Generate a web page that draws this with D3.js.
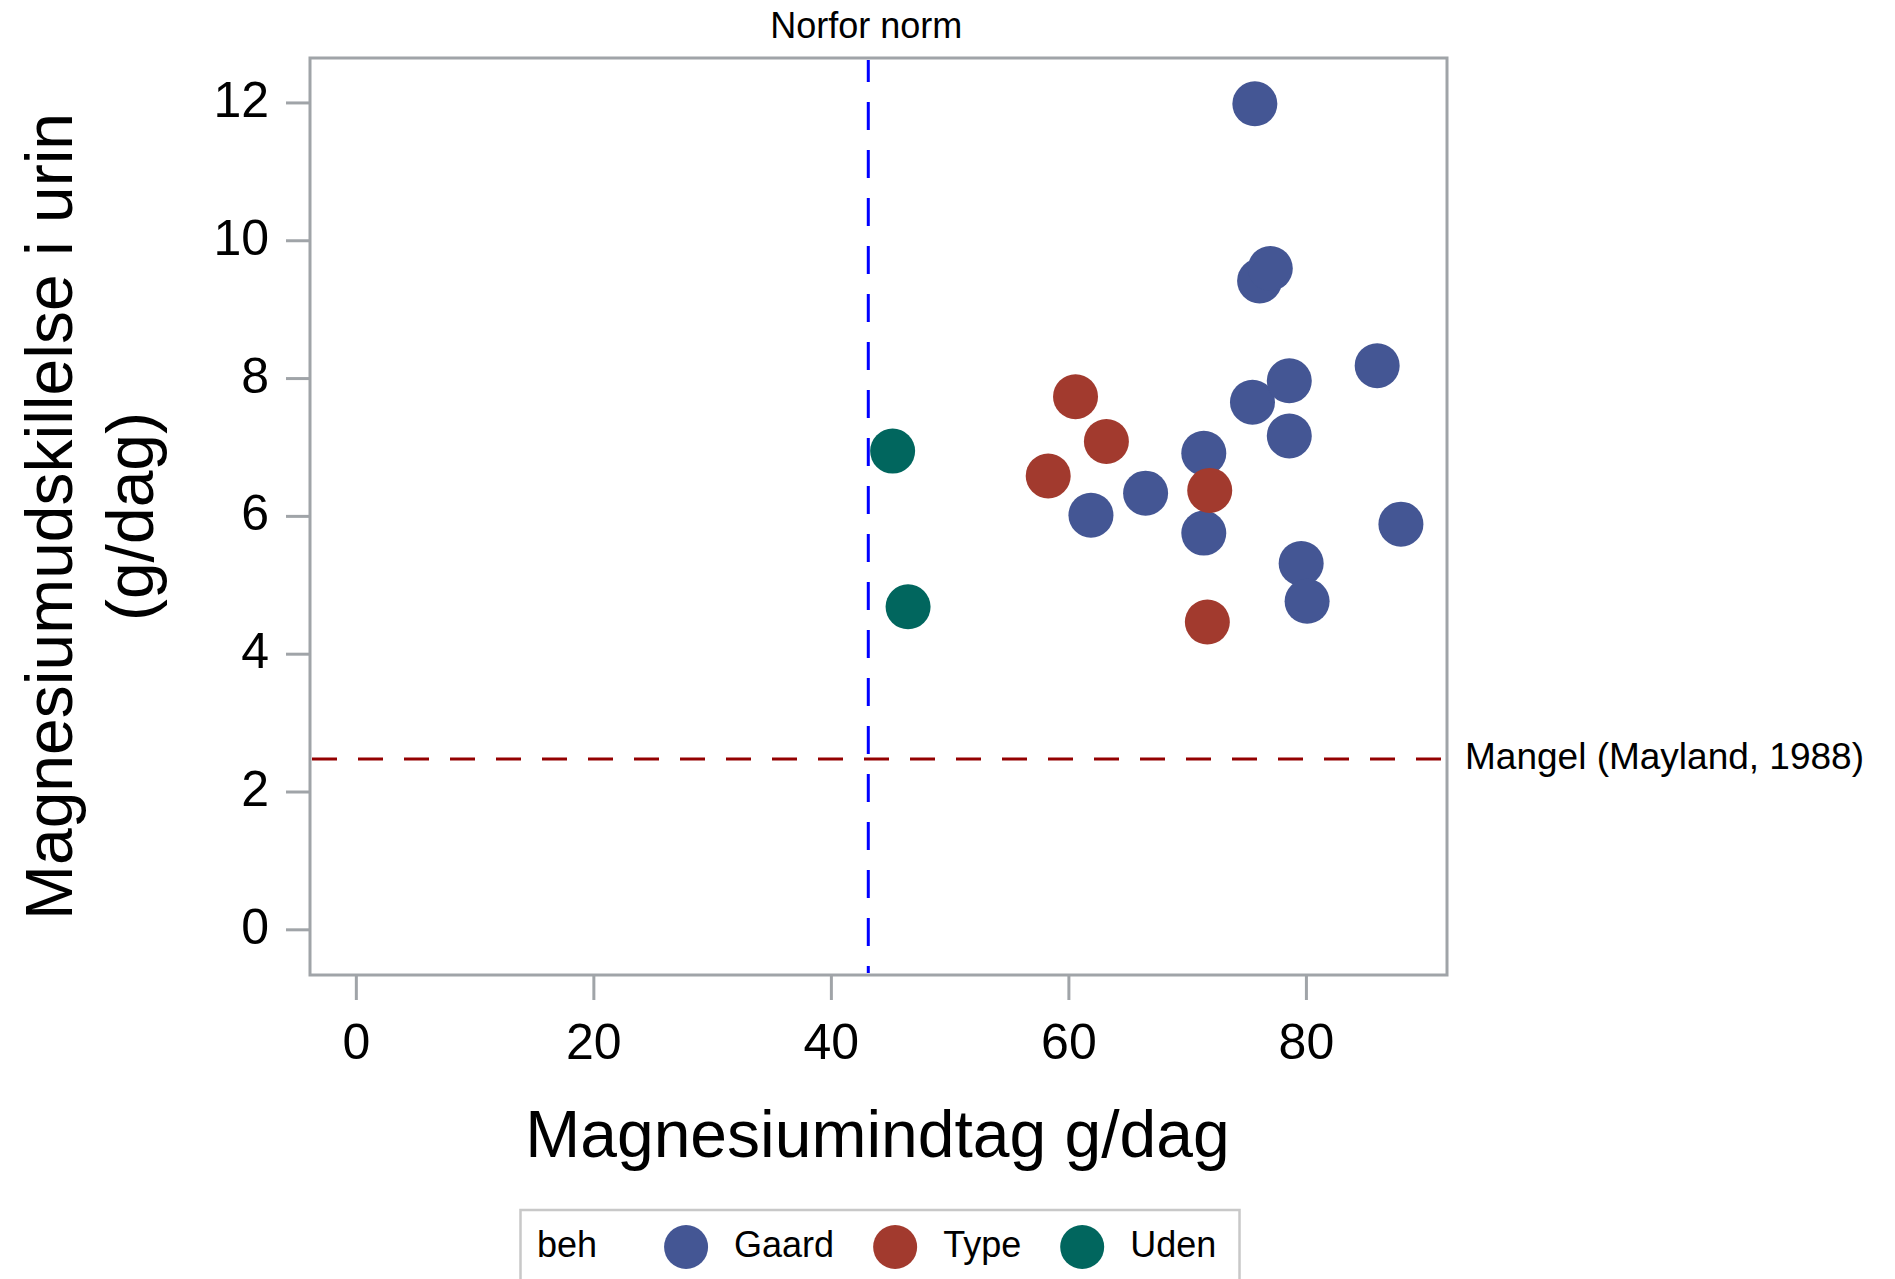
<!DOCTYPE html>
<html>
<head>
<meta charset="utf-8">
<script src="https://cdn.jsdelivr.net/npm/d3@7"></script>
<style>
  body { margin: 0; background: #fff; }
  text { font-family: "Liberation Sans", Arial, sans-serif; fill: #000; }
</style>
</head>
<body>
<script>
// groups (beh) and colours
let groups = ["Gaard", "Type", "Uden"];
let colors = ["#445694", "#a23a2e", "#01665e"];

// Magnesium intake (g/dag) and urinary excretion (g/dag) per group
let gaardIntake = [75.7, 76.1, 77.0, 61.9, 66.5, 71.4, 71.4, 75.5, 78.6, 78.6, 86.0, 88.0, 79.6, 80.1];
let gaardUrine  = [11.98, 9.41, 9.59, 6.01, 6.33, 6.91, 5.75, 7.65, 7.96, 7.16, 8.18, 5.88, 5.31, 4.76];
let typeIntake  = [60.6, 63.2, 58.3, 71.9, 71.7];
let typeUrine   = [7.73, 7.08, 6.58, 6.37, 4.46];
let udenIntake  = [45.2, 46.5];
let udenUrine   = [6.94, 4.68];

let xTicks = [0, 20, 40, 60, 80];
let yTicks = [0, 2, 4, 6, 8, 10, 12];

// reference lines
let norforNorm = 43.15;
let mangel = 2.47;

let W = 1895, H = 1279;
let plot = { left: 310, right: 1447, top: 58, bottom: 975 };
let gray = "#a0a4a8";

let svg = d3.select("body").append("svg")
  .attr("width", W)
  .attr("height", H);

let x = d3.scaleLinear()
  .domain([-3.86, 91.88])
  .range([plot.left, plot.right]);

let y = d3.scaleLinear()
  .domain([-0.663, 12.645])
  .range([plot.bottom, plot.top]);

// axes
let xAxis = svg.append("g")
  .attr("transform", "translate(0," + plot.bottom + ")")
  .call(d3.axisBottom(x)
    .tickValues(xTicks)
    .tickSize(25)
    .tickPadding(23)
    .tickFormat(d3.format("d")));
xAxis.select(".domain").remove();
xAxis.selectAll(".tick line").attr("stroke", gray).attr("stroke-width", 3);
xAxis.selectAll(".tick text").attr("font-size", 50).attr("font-family", null);

let yAxis = svg.append("g")
  .attr("transform", "translate(" + plot.left + ",0)")
  .call(d3.axisLeft(y)
    .tickValues(yTicks)
    .tickSize(24)
    .tickPadding(17)
    .tickFormat(d3.format("d")));
yAxis.select(".domain").remove();
yAxis.selectAll(".tick line").attr("stroke", gray).attr("stroke-width", 3);
yAxis.selectAll(".tick text").attr("font-size", 50).attr("font-family", null).attr("dy", "0.28em");

// frame
svg.append("rect")
  .attr("x", plot.left)
  .attr("y", plot.top)
  .attr("width", plot.right - plot.left)
  .attr("height", plot.bottom - plot.top)
  .attr("fill", "none")
  .attr("stroke", gray)
  .attr("stroke-width", 3);

// reference lines
svg.append("line")
  .attr("x1", x(norforNorm)).attr("x2", x(norforNorm))
  .attr("y1", plot.top + 2).attr("y2", plot.bottom - 2)
  .attr("stroke", "#0000ff")
  .attr("stroke-width", 3)
  .attr("stroke-dasharray", "28,20")
  .attr("stroke-dashoffset", 6);

svg.append("text")
  .attr("x", x(norforNorm) - 2)
  .attr("y", 38)
  .attr("text-anchor", "middle")
  .attr("font-size", 36)
  .text("Norfor norm");

svg.append("line")
  .attr("x1", plot.left + 2).attr("x2", plot.right - 2)
  .attr("y1", y(mangel)).attr("y2", y(mangel))
  .attr("stroke", "#940000")
  .attr("stroke-width", 3)
  .attr("stroke-dasharray", "25,21");

svg.append("text")
  .attr("x", plot.right + 18)
  .attr("y", y(mangel) + 10)
  .attr("font-size", 37)
  .text("Mangel (Mayland, 1988)");

// points
let series = [
  [gaardIntake, gaardUrine],
  [typeIntake, typeUrine],
  [udenIntake, udenUrine]
];
series.forEach((s, i) => {
  svg.append("g")
    .selectAll("circle")
    .data(s[0].map((v, j) => [v, s[1][j]]))
    .enter().append("circle")
    .attr("cx", d => x(d[0]))
    .attr("cy", d => y(d[1]))
    .attr("r", 22.5)
    .attr("fill", colors[i]);
});

// axis titles
svg.append("text")
  .attr("x", (plot.left + plot.right) / 2 - 1)
  .attr("y", 1157)
  .attr("text-anchor", "middle")
  .attr("font-size", 66)
  .text("Magnesiumindtag g/dag");

let yMid = (plot.top + plot.bottom) / 2;
svg.append("text")
  .attr("transform", "translate(72," + yMid + ") rotate(-90)")
  .attr("text-anchor", "middle")
  .attr("font-size", 66)
  .text("Magnesiumudskillelse i urin");
svg.append("text")
  .attr("transform", "translate(153," + yMid + ") rotate(-90)")
  .attr("text-anchor", "middle")
  .attr("font-size", 66)
  .text("(g/dag)");

// legend
let legend = svg.append("g");
legend.append("rect")
  .attr("x", 520.5)
  .attr("y", 1210)
  .attr("width", 719)
  .attr("height", 90)
  .attr("fill", "none")
  .attr("stroke", "#c8c8c8")
  .attr("stroke-width", 2.5);

let title = legend.append("text")
  .attr("x", 537)
  .attr("y", 1257)
  .attr("font-size", 36)
  .text("beh");

let cursor = 537 + title.node().getComputedTextLength() + 67;
groups.forEach((g, i) => {
  legend.append("circle")
    .attr("cx", cursor + 22)
    .attr("cy", 1247)
    .attr("r", 22)
    .attr("fill", colors[i]);
  let t = legend.append("text")
    .attr("x", cursor + 70)
    .attr("y", 1257)
    .attr("font-size", 36)
    .text(g);
  cursor += 70 + t.node().getComputedTextLength() + 39;
});
</script>
</body>
</html>
